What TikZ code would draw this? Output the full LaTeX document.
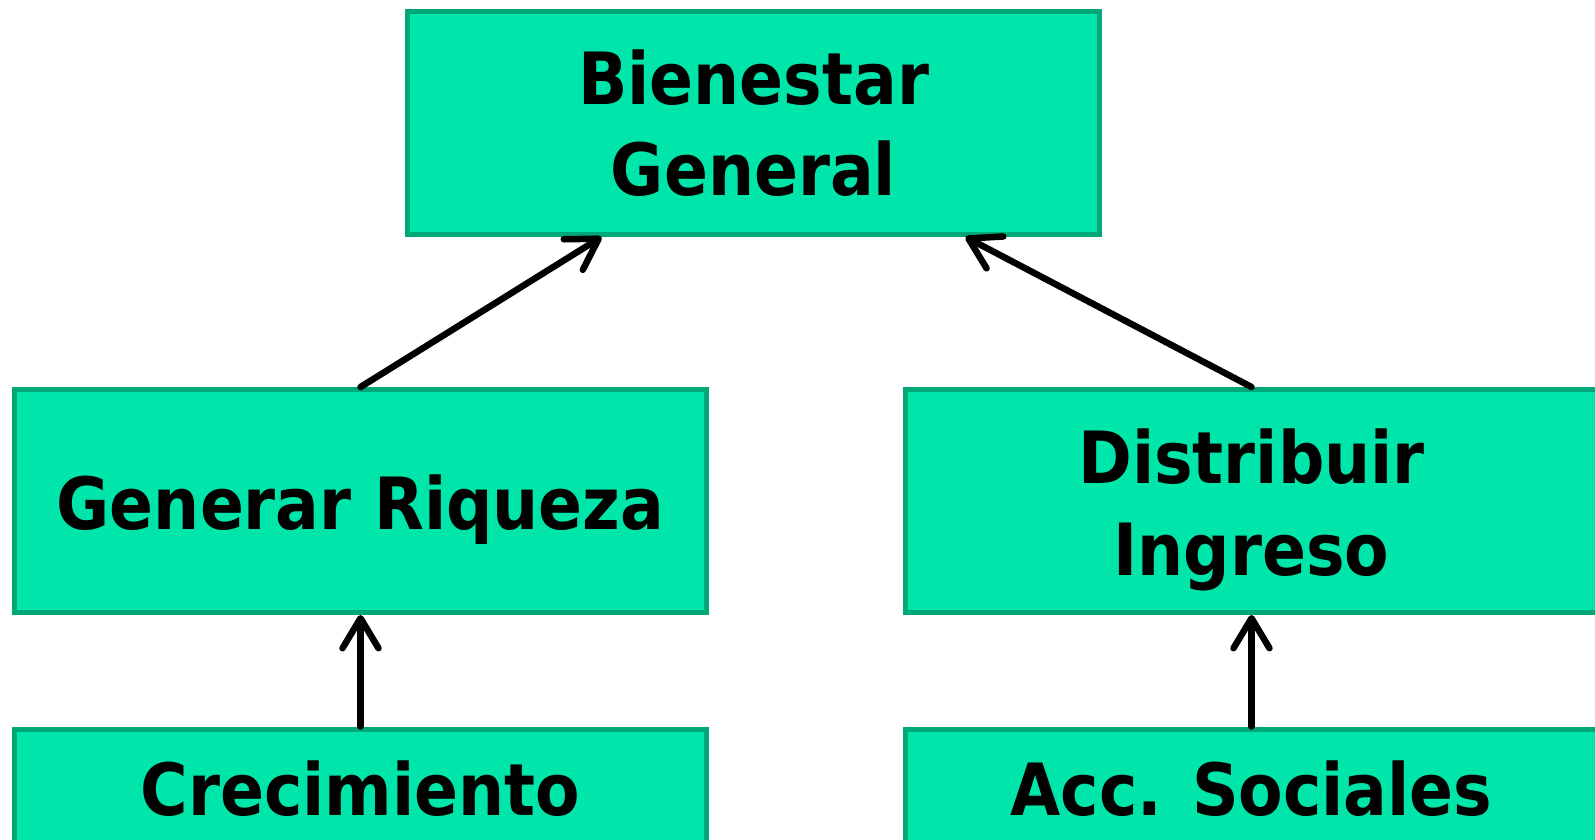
\documentclass[tikz,border=0pt]{standalone}
\usepackage{fontspec}
\setmainfont{DejaVu Sans Condensed}
\usetikzlibrary{calc,arrows.meta}
\definecolor{MGreen}{HTML}{00E6AA}
\definecolor{DGreen}{HTML}{00A878}
\newcommand{\dn}[1]{\raisebox{-0.18cm}[\height][\depth]{#1}}
\tikzset{
    block/.style = {draw=DGreen, fill=MGreen, rectangle, line width=0.1cm,
        minimum width=13.84cm, minimum height=4.46cm, inner sep=0pt,
        align=center, font=\fontsize{41}{52}\selectfont\bfseries},
    arrow/.style = {draw, line width=0.13cm, line cap=round, line join=round,
        -{Straight Barb[length=0.6cm,width=0.72cm,line cap=round,line join=round]}}
}
\begin{document}
\begin{tikzpicture}[x=0.02cm,y=0.02cm]
        \useasboundingbox (0,0) rectangle (1595,839);
        \clip (0,0) rectangle (1595,839);
        \node[block] (top) at (753.5,716) {Bienestar\\General};
        \node[block] (gen) at (360.5,338) {\dn{Generar Riqueza}};
        \node[block] (dist) at (1251.5,338) {\dn{Distribuir}\\\dn{Ingreso}};
        \node[block,minimum height=2.4cm] (crec) at (360.5,50) {Crecimiento};
        \node[block,minimum height=2.4cm] (acc) at (1251.5,50) {Acc. Sociales};
        \draw[arrow] (gen.north) -- ($(top.south)+(-152,0)$);
        \draw[arrow] (dist.north) -- ($(top.south)+(212,0)$);
        \draw[arrow] (crec.north) -- (gen.south);
        \draw[arrow] (acc.north) -- (dist.south);
\end{tikzpicture}
\end{document}
